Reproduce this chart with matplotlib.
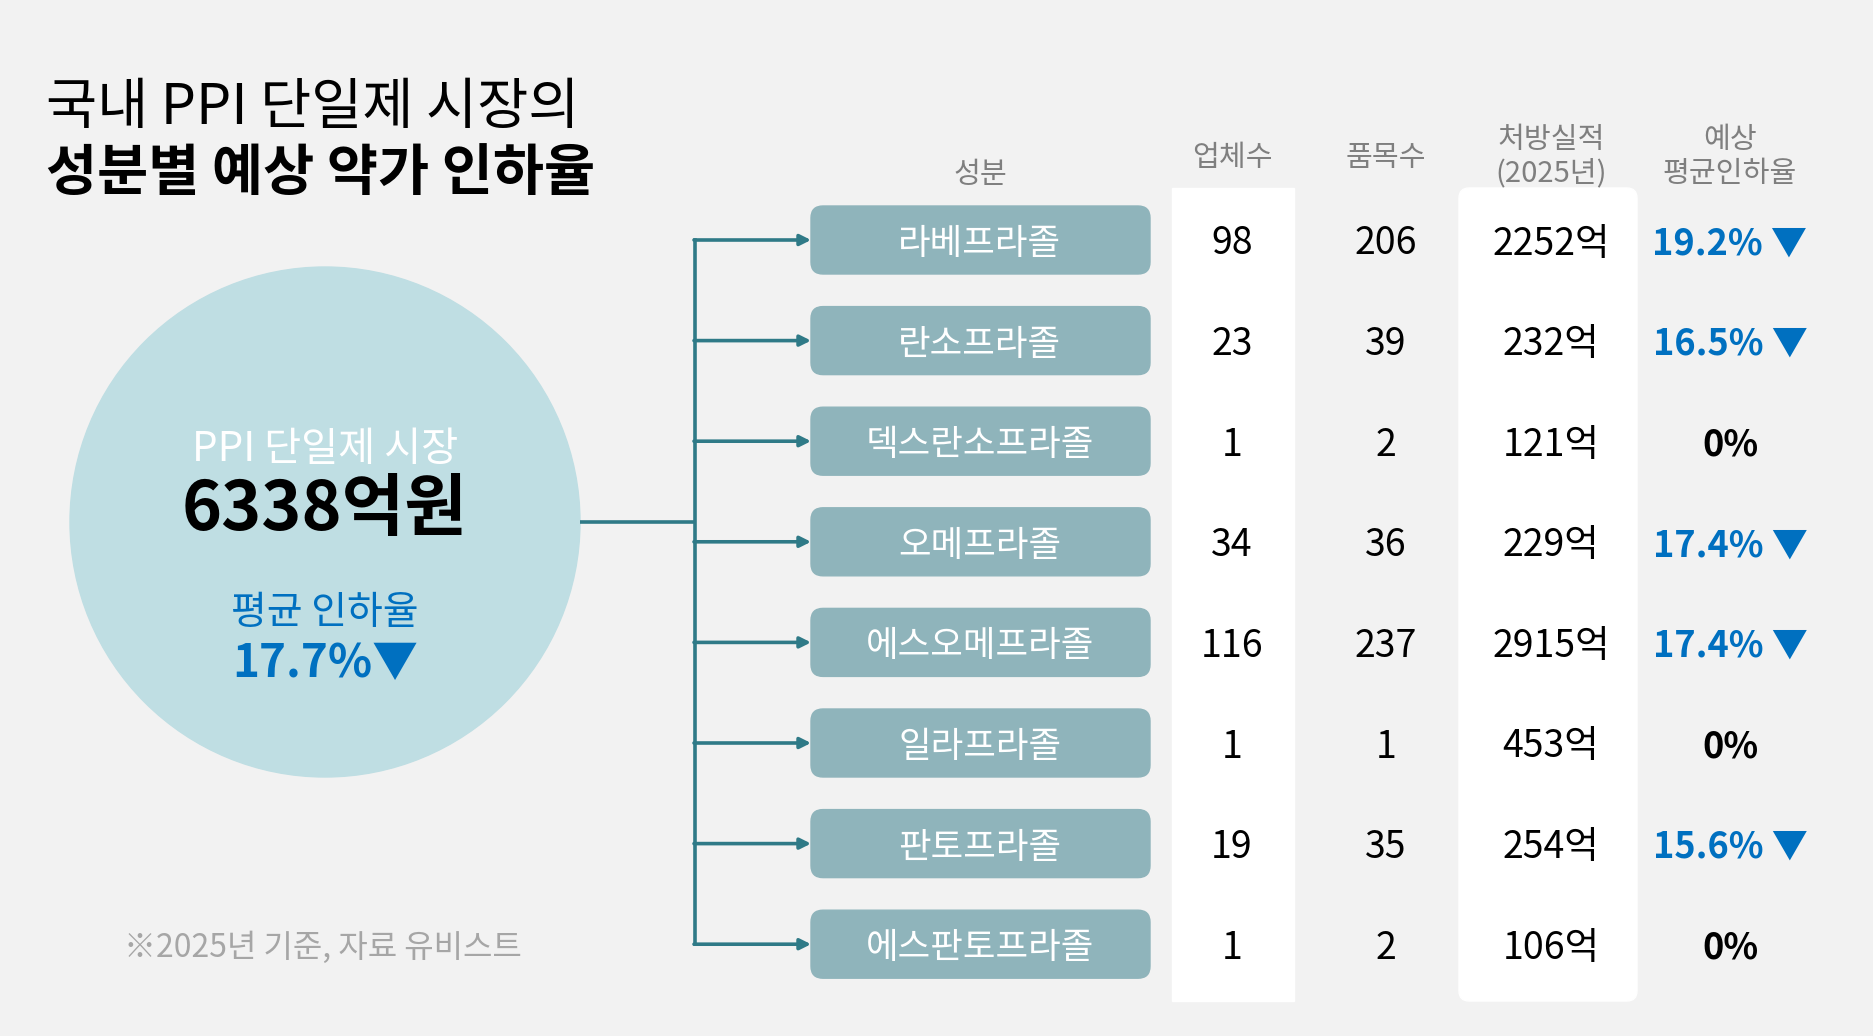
import matplotlib.pyplot as plt
from matplotlib.patches import Circle, FancyBboxPatch, Rectangle

plt.rcParams['font.family'] = ['Noto Sans CJK KR', 'DejaVu Sans']

# data
names = ["라베프라졸", "란소프라졸", "덱스란소프라졸", "오메프라졸",
         "에스오메프라졸", "일라프라졸", "판토프라졸", "에스판토프라졸"]
companies = [98, 23, 1, 34, 116, 1, 19, 1]
products = [206, 39, 2, 36, 237, 1, 35, 2]
sales = [2252, 232, 121, 229, 2915, 453, 254, 106]   # 억원
cuts = [19.2, 16.5, 0, 17.4, 17.4, 0, 15.6, 0]       # %
headers = ["성분", "업체수", "품목수", "처방실적\n(2025년)", "예상\n평균인하율"]
market_total = 6338
market_cut = 17.7

BG = "#f2f2f2"
CIRCLE = "#bfdee3"
BOX = "#8fb4bb"
LINE = "#2f7a87"
BLUE = "#0070c0"
GRAY = "#7f7f7f"
DY = 4  # CJK glyphs sit a bit high with va=center

fig = plt.figure(figsize=(18.74, 10.36), dpi=100, facecolor=BG)
ax = fig.add_axes([0, 0, 1, 1])
ax.set_xlim(0, 1874)
ax.set_ylim(1036, 0)
ax.axis("off")

# title
ax.text(46, 104 + DY, "국내 PPI 단일제 시장의", fontsize=40, ha="left", va="center", color="black")
ax.text(46, 170 + DY, "성분별 예상 약가 인하율", fontsize=40, fontweight="bold",
        ha="left", va="center", color="black")

# big circle
ax.add_patch(Circle((325, 522), 255, color=CIRCLE, zorder=1))
ax.text(325, 446 + DY, "PPI 단일제 시장", fontsize=29, color="white", ha="center", va="center")
ax.text(325, 507 + DY, f"{market_total}억원", fontsize=49, fontweight="bold",
        color="black", ha="center", va="center")
ax.text(325, 609 + DY, "평균 인하율", fontsize=28, color=BLUE, ha="center", va="center")
ax.text(325, 660 + DY, f"{market_cut}%▼", fontsize=33, fontweight="bold",
        color=BLUE, ha="center", va="center")

# row layout
row_y = [240 + 100.6 * i for i in range(len(names))]
trunk_x = 695
box_x0, box_x1 = 811, 1150
col_x = [980, 1232, 1386, 1551, 1730]

# white column bands
ax.add_patch(Rectangle((1172, 188), 122, 813, color="white", zorder=0))
ax.add_patch(FancyBboxPatch((1459, 188), 178, 813, boxstyle="round,pad=0,rounding_size=10",
                            color="white", zorder=0))

# connectors
ax.plot([580, trunk_x], [522, 522], color=LINE, lw=2.6, solid_capstyle="butt")
ax.plot([trunk_x, trunk_x], [row_y[0], row_y[-1]], color=LINE, lw=2.6)
for y in row_y:
    ax.annotate("", xy=(box_x0, y), xytext=(trunk_x - 1, y),
                arrowprops=dict(arrowstyle="-|>", color=LINE, lw=2.6,
                                mutation_scale=16, shrinkA=0, shrinkB=0))

# headers
ax.text(col_x[0], 171 + DY, headers[0], fontsize=21, color=GRAY, ha="center", va="center")
ax.text(col_x[1], 154 + DY, headers[1], fontsize=21, color=GRAY, ha="center", va="center")
ax.text(col_x[2], 154 + DY, headers[2], fontsize=21, color=GRAY, ha="center", va="center")
ax.text(col_x[3], 153 + DY, headers[3], fontsize=21, color=GRAY, ha="center", va="center",
        linespacing=1.15)
ax.text(col_x[4], 153 + DY, headers[4], fontsize=21, color=GRAY, ha="center", va="center",
        linespacing=1.15)

# rows
for i, y in enumerate(row_y):
    ax.add_patch(FancyBboxPatch((box_x0, y - 34), box_x1 - box_x0, 68,
                                boxstyle="round,pad=0,rounding_size=12",
                                color=BOX, zorder=2))
    ty = y + DY
    ax.text(col_x[0], ty, names[i], fontsize=25.5, color="white", ha="center", va="center", zorder=3)
    ax.text(col_x[1], ty, str(companies[i]), fontsize=27, ha="center", va="center")
    ax.text(col_x[2], ty, str(products[i]), fontsize=27, ha="center", va="center")
    ax.text(col_x[3], ty, f"{sales[i]}억", fontsize=27, ha="center", va="center")
    if cuts[i] > 0:
        ax.text(col_x[4], ty, f"{cuts[i]:.1f}% ▼", fontsize=26, fontweight="bold",
                color=BLUE, ha="center", va="center")
    else:
        ax.text(col_x[4], ty, "0%", fontsize=26, fontweight="bold",
                color="black", ha="center", va="center")

# footnote
ax.text(124, 944 + DY, "※2025년 기준, 자료 유비스트", fontsize=23, color="#a6a6a6",
        ha="left", va="center")

fig.savefig("out.png", dpi=100, facecolor=BG)
